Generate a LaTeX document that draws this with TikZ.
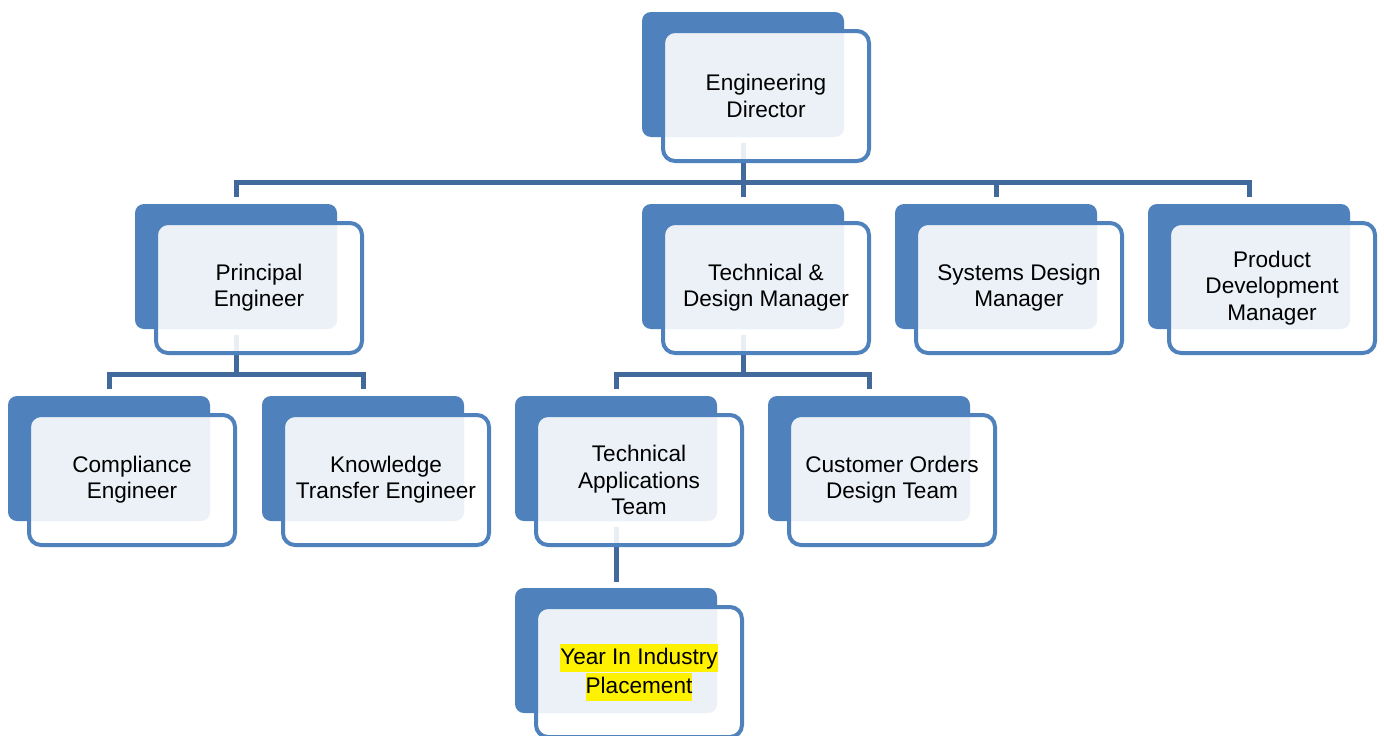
\documentclass[tikz,border=0pt]{standalone}
\usepackage{fontspec}
\setmainfont{Liberation Sans}
\setlength{\fboxsep}{0pt}
\definecolor{unitblue}{HTML}{4F81BD}
\definecolor{linkblue}{HTML}{41699B}
\tikzset{
  backbox/.style={fill=unitblue,rounded corners=9pt,minimum width=202pt,minimum height=125pt,inner sep=0pt},
  framebox/.style={draw=unitblue,line width=4pt,fill=white,fill opacity=0.89,text opacity=1,rounded corners=12pt,
    minimum width=206pt,minimum height=130pt,inner sep=0pt,align=center,font=\fontsize{22.6}{26.3}\selectfont},
  link/.style={draw=linkblue,line width=5pt}
}
\begin{document}
\begin{tikzpicture}[x=1pt,y=-1pt]
\useasboundingbox (0,0) rectangle (1384,736);
\clip (0,0) rectangle (1384,736);
\foreach \n/\x/\y in {ed/642/12,pe/135/204,tdm/642/204,sdm/895/204,pdm/1148/204,
    ce/8/396,kte/262/396,tat/515/396,cod/768/396,yii/515/588}
  \node[backbox] (\n-b) at (\x+101,\y+62.5) {};
\coordinate (bus) at (0,182);
\coordinate (lower) at (0,374);
\draw[link] ([yshift=-6pt]ed-b.south) -- (ed-b.south |- bus);
\draw[link] ([yshift=7pt]pe-b.north) -- (pe-b.north |- bus) -- (pdm-b.north |- bus) -- ([yshift=7pt]pdm-b.north);
\draw[link] (tdm-b.north |- bus) -- ([yshift=7pt]tdm-b.north);
\draw[link] (sdm-b.north |- bus) -- ([yshift=7pt]sdm-b.north);
\draw[link] ([yshift=-6pt]pe-b.south) -- (pe-b.south |- lower);
\draw[link] ([yshift=7pt]ce-b.north) -- (ce-b.north |- lower) -- (kte-b.north |- lower) -- ([yshift=7pt]kte-b.north);
\draw[link] ([yshift=-6pt]tdm-b.south) -- (tdm-b.south |- lower);
\draw[link] ([yshift=7pt]tat-b.north) -- (tat-b.north |- lower) -- (cod-b.north |- lower) -- ([yshift=7pt]cod-b.north);
\draw[link] ([yshift=-6pt]tat-b.south) -- ([yshift=6pt]yii-b.north);
\node[framebox] (ed) at (766,96) {Engineering\\Director};
\node[framebox] (pe) at (259,288) {Principal\\Engineer};
\node[framebox] (tdm) at (766,288) {Technical \&\\Design Manager};
\node[framebox] (sdm) at (1019,288) {Systems Design\\Manager};
\node[framebox] (pdm) at (1272,288) {Product\\Development\\Manager};
\node[framebox] (ce) at (132,480) {Compliance\\Engineer};
\node[framebox] (kte) at (386,480) {Knowledge\\Transfer Engineer};
\node[framebox] (tat) at (639,480) {Technical\\Applications\\Team};
\node[framebox] (cod) at (892,480) {Customer Orders\\Design Team};
\node[framebox] (yii) at (639,672) {\colorbox{yellow}{\rule[-7pt]{0pt}{28pt}Year In Industry}\\\colorbox{yellow}{\rule[-7pt]{0pt}{28pt}Placement}};
\end{tikzpicture}
\end{document}
